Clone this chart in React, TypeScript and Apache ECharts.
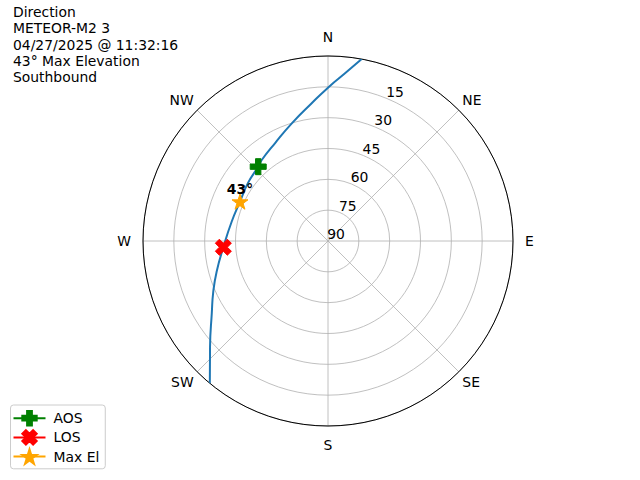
import React, { useEffect, useRef } from "react";
import * as echarts from "echarts";

const TITLE_LINES = [
  "Direction",
  "METEOR-M2 3",
  "04/27/2025 @ 11:32:16",
  "43° Max Elevation",
  "Southbound",
];
const DIRECTIONS = ["N", "NE", "E", "SE", "S", "SW", "W", "NW"];
const RADIAL_TICKS = [90, 75, 60, 45, 30, 15];

// satellite track: azimuth (deg, clockwise from N) and elevation (deg)
const TRACK_AZ = [10.5, 5.8, 0.4, 353.25, 342.9, 331.5, 320.7, 316.8, 306, 294.1, 281.3, 266.6, 254.6, 246.2, 238.1, 228.1, 219.7];
const TRACK_EL = [0, 8.0, 14.9, 22.5, 30.1, 35.9, 39.1, 40.4, 41.9, 43.1, 42.2, 39.0, 33.8, 29.0, 23.4, 12.9, 0];

const AOS_POINT = { az: 316.8, el: 40.4 };
const LOS_POINT = { az: 266.6, el: 39.0 };
const MAX_POINT = { az: 294.1, el: 43.1 };

const FONT = "DejaVu Sans";

const PLUS_PATH = "path://M2,0H4V2H6V4H4V6H2V4H0V2H2Z";
const X_PATH = "path://M1,0L2,1L3,0L4,1L3,2L4,3L3,4L2,3L1,4L0,3L1,2L0,1Z";
const STAR_PATH =
  "path://" +
  Array.from({ length: 10 }, (_, i) => {
    const r = i % 2 ? 0.382 : 1;
    const a = -Math.PI / 2 + (i * Math.PI) / 5;
    return (i ? "L" : "M") + (r * Math.cos(a)).toFixed(3) + "," + (r * Math.sin(a)).toFixed(3);
  }).join("") +
  "Z";

// per-direction label nudges (rich styles)
const DIR_RICH: Record<string, any> = {
  N: { padding: [0, 0, 7, 0] },
  S: { padding: [7, 0, 0, 0] },
  E: { padding: [0, 0, 0, 7] },
  W: { padding: [0, 7, 0, 0] },
  D: { padding: [0, 0, 0, 0] },
};

export default function App() {
  const ref = useRef<HTMLDivElement>(null);
  useEffect(() => {
    if (!ref.current) return;
    const chart = echarts.init(ref.current, null, { renderer: "svg" });
    const center = [328, 241];
    const radius = 185;
    const markerSeries = (name: string, p: { az: number; el: number }, color: string, symbol: string, extra: any = {}) => ({
      name,
      type: "line",
      coordinateSystem: "polar",
      polarIndex: 0,
      data: [[p.el, p.az]],
      symbol,
      symbolSize: 16,
      symbolKeepAspect: true,
      showSymbol: true,
      lineStyle: { color, width: 2 },
      itemStyle: { color, borderColor: color, borderWidth: 1 },
      z: 5,
      ...extra,
    });
    const richText = (d: string) => {
      const key = d.length === 1 ? d : "D";
      return `{${key}|${d}}`;
    };
    const rich: Record<string, any> = {};
    Object.keys(DIR_RICH).forEach((k) => {
      rich[k] = { ...DIR_RICH[k], fontFamily: FONT, fontSize: 13.9, color: "#000" };
    });
    chart.setOption({
      animation: false,
      title: {
        text: TITLE_LINES.join("\n"),
        left: 13,
        top: 4,
        padding: 0,
        textStyle: {
          fontFamily: FONT,
          fontSize: 13.9,
          fontWeight: "normal",
          color: "#000",
          lineHeight: 16.3,
        },
      },
      legend: {
        data: ["AOS", "LOS", "Max El"],
        orient: "vertical",
        left: 10.5,
        top: 405,
        padding: [5, 6, 4, 2],
        itemWidth: 32,
        itemHeight: 18,
        itemGap: 2.8,
        backgroundColor: "rgba(255,255,255,0.8)",
        borderColor: "#cccccc",
        borderWidth: 1,
        borderRadius: 3,
        textStyle: { fontFamily: FONT, fontSize: 13.9, color: "#000", padding: [0, 0, 0, 3] },
      },
      polar: [
        { center, radius },
        { center, radius },
      ],
      angleAxis: [
        {
          polarIndex: 0,
          type: "value",
          min: 0,
          max: 360,
          interval: 45,
          startAngle: 90,
          clockwise: true,
          axisLine: { show: true, lineStyle: { color: "#000", width: 1 } },
          axisTick: { show: false },
          axisLabel: {
            margin: 5,
            fontFamily: FONT,
            fontSize: 13.9,
            color: "#000",
            formatter: (v: number) => richText(DIRECTIONS[Math.round(v / 45) % 8]),
            rich,
          },
          splitLine: { show: true, lineStyle: { color: "#b0b0b0", width: 0.8 } },
        },
        {
          polarIndex: 1,
          type: "value",
          min: 0,
          max: 360,
          startAngle: 67.5,
          clockwise: true,
          show: false,
        },
      ],
      radiusAxis: [
        {
          polarIndex: 0,
          type: "value",
          min: 0,
          max: 90,
          interval: 15,
          inverse: true,
          axisLine: { show: false },
          axisTick: { show: false },
          axisLabel: { show: false },
          splitLine: { show: true, lineStyle: { color: "#b0b0b0", width: 0.8 } },
        },
        {
          polarIndex: 1,
          type: "value",
          min: 0,
          max: 90,
          interval: 15,
          inverse: true,
          axisLine: { show: false },
          axisTick: { show: false },
          splitLine: { show: false },
          axisLabel: {
            show: true,
            margin: 0,
            align: "center",
            verticalAlign: "bottom",
            padding: [0, 0, 0, 16],
            fontFamily: FONT,
            fontSize: 13.9,
            color: "#000",
            formatter: (v: number) => (RADIAL_TICKS.includes(v) ? String(v) : ""),
          },
        },
      ],
      series: [
        {
          name: "Track",
          type: "line",
          coordinateSystem: "polar",
          polarIndex: 0,
          data: TRACK_AZ.map((az, i) => [TRACK_EL[i], az]),
          smooth: 0.5,
          showSymbol: false,
          symbol: "none",
          lineStyle: { color: "#1f77b4", width: 2 },
          z: 3,
        },
        markerSeries("AOS", AOS_POINT, "#008000", PLUS_PATH),
        markerSeries("LOS", LOS_POINT, "#ff0000", X_PATH),
        markerSeries("Max El", MAX_POINT, "#ffa500", STAR_PATH, {
          label: {
            show: true,
            position: "inside",
            offset: [0, -13],
            formatter: () => `${Math.round(MAX_POINT.el)}°`,
            fontFamily: FONT,
            fontSize: 13.9,
            fontWeight: "bold",
            color: "#000",
          },
        }),
      ],
    });
    return () => chart.dispose();
  }, []);
  return (
    <div
      ref={ref}
      style={{ position: "absolute", left: 0, top: 0, width: 640, height: 480, background: "#fff" }}
    />
  );
}
